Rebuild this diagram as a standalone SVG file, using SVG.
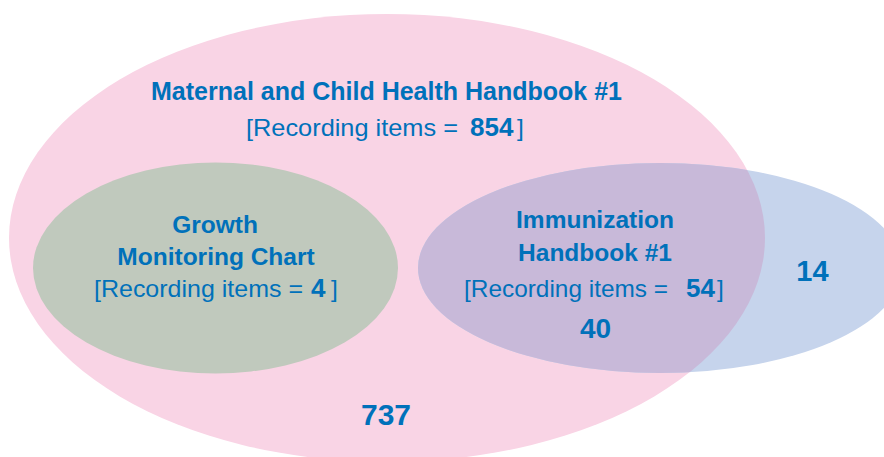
<svg xmlns="http://www.w3.org/2000/svg" width="884" height="457" viewBox="0 0 884 457">
<style>
text{font-family:"Liberation Sans",Arial,sans-serif;fill:#0071BA;text-anchor:middle}
.h{font-weight:bold;font-size:24.5px}
.t{font-size:24.5px;text-anchor:start}
.b{font-weight:bold;font-size:26px;text-anchor:start}
.n{font-weight:bold;font-size:29px}
</style>
<defs>
<clipPath id="pinkClip"><ellipse cx="387" cy="238" rx="378" ry="224"/></clipPath>
</defs>
<rect width="884" height="457" fill="#ffffff"/>
<g id="mch">
<ellipse cx="387" cy="238" rx="378" ry="224" fill="#F9D4E5"/>
<text class="h" x="386.5" y="100" style="font-size:25px">Maternal and Child Health Handbook #1</text>
<text class="t" x="246" y="136" textLength="212" lengthAdjust="spacingAndGlyphs">[Recording items =</text>
<text class="b" x="470" y="136">854</text>
<text class="t" x="517" y="136">]</text>
<text class="n" x="386" y="425" style="font-size:30px">737</text>
</g>
<g id="growth">
<ellipse cx="215.5" cy="268" rx="182.5" ry="105.5" fill="#C0C9BD"/>
<text class="h" x="215" y="233">Growth</text>
<text class="h" x="216" y="265">Monitoring Chart</text>
<text class="t" x="94" y="297" textLength="209" lengthAdjust="spacingAndGlyphs">[Recording items =</text>
<text class="b" x="311" y="297">4</text>
<text class="t" x="331" y="297">]</text>
</g>
<g id="immunization">
<ellipse cx="660" cy="268" rx="242" ry="105" fill="#C6D4EC"/>
<ellipse cx="660" cy="268" rx="242" ry="105" fill="#C8B9D9" clip-path="url(#pinkClip)"/>
<text class="h" x="595" y="228">Immunization</text>
<text class="h" x="595" y="261">Handbook #1</text>
<text class="t" x="464" y="297" textLength="204" lengthAdjust="spacingAndGlyphs">[Recording items =</text>
<text class="b" x="686" y="297">54</text>
<text class="t" x="717" y="297">]</text>
<text class="n" x="595.5" y="338" style="font-size:28px">40</text>
<text class="n" x="812.5" y="281">14</text>
</g>
<g id="connectors"></g>
</svg>
